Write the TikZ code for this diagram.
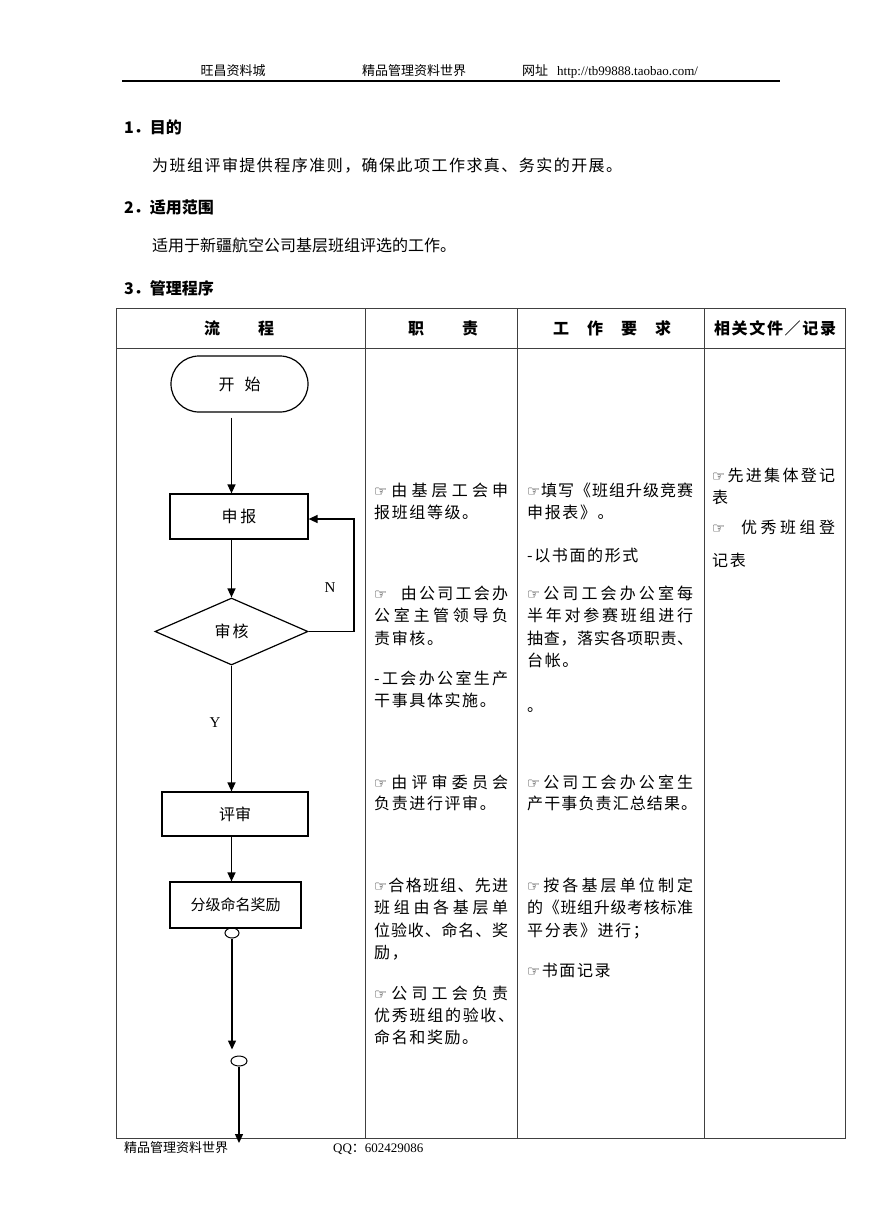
\documentclass[tikz,border=0pt]{standalone}
\usepackage{fontspec}
\setmainfont{Liberation Serif}
\newfontfamily\cjk{Noto Sans CJK SC}
\newfontfamily\sym{DejaVu Sans}
\usetikzlibrary{arrows.meta,shapes.geometric,calc}
\newcommand\sprA[1]{#1\sprB}
\newcommand\sprB[1]{\ifx#1\relax\else\sprsep#1\expandafter\sprB\fi}
\newcommand\jl[2]{\hbox to #1{\let\sprsep\hfil\sprA#2\relax}}
\newcommand\nl[1]{\hbox{\let\sprsep\ikern\sprA#1\relax}}
\def\ikern{\kern1.6pt}
\def\gp{\kern9pt}
\newcommand\hand{{\sym\fontsize{14.5}{14}\selectfont ☞}}
\tikzset{
  txt/.style={font=\cjk\fontsize{16}{19}\selectfont, inner sep=0pt, anchor=west, text height=13.4pt, text depth=1.3pt},
  small/.style={font=\cjk\fontsize{13}{15}\selectfont, inner sep=0pt, text height=11pt, text depth=1.1pt},
  latin/.style={font=\fontsize{13}{15}\selectfont, inner sep=0pt, text height=11pt, text depth=1.1pt},
  head/.style={font=\cjk\bfseries\fontsize{16}{19}\selectfont, inner sep=0pt, text height=13.4pt, text depth=1.3pt},
  flowbox/.style={draw, line width=1.2pt, font=\cjk\fontsize{16}{19}\selectfont, inner sep=0pt},
  arr/.style={-{Triangle[length=9pt,width=8pt]}, line width=1.4pt},
  tbl/.style={draw=black!75, line width=0.9pt},
  lbl/.style={font=\fontsize{15}{17}\selectfont, inner sep=0pt}
}
\begin{document}
\begin{tikzpicture}[x=1pt,y=-1pt]
\path[fill=white] (0,0) rectangle (868,1228);
\useasboundingbox (0,0) rectangle (868,1228);
% page header
\node[small] (h1) at (233,71) {旺昌资料城};
\node[small] (h2) at (414,71) {精品管理资料世界};
\node[small, anchor=west] (h3) at (522,71) {网址};
\node[latin, anchor=west] (h4) at (557,71) {http://tb99888.taobao.com/};
\draw[line width=1.3pt] (122,81) -- (780,81);
% sections
\node[head, anchor=west] (s1) at (124,127) {1．目的};
\node[txt] (p1) at (152,165) {\jl{470pt}{为班组评审提供程序准则，确保此项工作求真、务实的开展。}};
\node[head, anchor=west] (s2) at (124,207) {2．适用范围};
\node[txt] (p2) at (152,245) {适用于新疆航空公司基层班组评选的工作。};
\node[head, anchor=west] (s3) at (124,288) {3．管理程序};
% table
\draw[tbl] (116,308) rectangle (845,1138);
\draw[tbl] (116,348) -- (845,348);
\draw[tbl] (365,308) -- (365,1138);
\draw[tbl] (517,308) -- (517,1138);
\draw[tbl] (704,308) -- (704,1138);
\node[head] (t1) at (239,328) {\jl{70pt}{流程}};
\node[head] (t2) at (443,328) {\jl{70pt}{职责}};
\node[head] (t3) at (612,328) {\jl{118pt}{工作要求}};
\node[head] (t4) at (775,328) {\jl{122pt}{相关文件／记录}};
% flow chart
\node[flowbox, minimum width=137pt, minimum height=56pt, rounded corners=28pt] (start) at (239.5,384) {开\hspace{10pt}始};
\node[flowbox, minimum width=138pt, minimum height=45pt] (rep) at (239,516.5) {申\kern3pt 报};
\node[diamond, draw, line width=1.2pt, minimum width=153pt, minimum height=67pt, inner sep=0pt, font=\cjk\fontsize{16}{19}\selectfont] (chk) at (231.5,631.5) {审\kern2pt 核};
\node[flowbox, minimum width=146pt, minimum height=44pt] (rev) at (235,814) {评审};
\node[flowbox, minimum width=131pt, minimum height=46pt, font=\cjk\fontsize{15}{18}\selectfont] (awd) at (235.5,905) {分级命名奖励};
\node[ellipse, draw, line width=1pt, minimum width=14pt, minimum height=10pt, inner sep=0pt] (c1) at (232,933) {};
\node[ellipse, draw, line width=1pt, minimum width=16pt, minimum height=10pt, inner sep=0pt] (c2) at (239,1061) {};
\coordinate (nloop) at (354,519);
\coordinate (endp) at (239,1143);
\draw[arr] ($(start.south -| chk.north)+(0,5)$) -- (rep.north -| chk.north);
\draw[arr] (rep.south -| chk.north) -- (chk.north);
\draw[arr] (chk.east) -| (nloop) -- (nloop -| rep.east);
\draw[arr] (chk.south) -- (rev.north -| chk.south);
\draw[arr] (rev.south -| chk.south) -- (awd.north -| chk.south);
\draw[arr] (c1.south) -- ($(c2.north -| c1.south)+(0,-6)$);
\draw[arr] (c2.south) -- (endp);
\node[lbl] (nlab) at (330,588) {N};
\node[lbl] (ylab) at (215,723) {Y};
% column 2
\node[txt] (a1) at (374,490) {\jl{134pt}{\hand 由基层工会申}};
\node[txt] (a2) at (374,512) {\nl{报班组等级。}};
\node[txt] (a3) at (374,593) {\jl{134pt}{\hand\gp 由公司工会办}};
\node[txt] (a4) at (374,615) {\jl{134pt}{公室主管领导负}};
\node[txt] (a5) at (374,638) {\nl{责审核。}};
\node[txt] (a6) at (374,678) {\jl{134pt}{-工会办公室生产}};
\node[txt] (a7) at (374,700) {\nl{干事具体实施。}};
\node[txt] (a8) at (374,782) {\jl{134pt}{\hand 由评审委员会}};
\node[txt] (a9) at (374,803) {\nl{负责进行评审。}};
\node[txt] (a10) at (374,885) {\jl{134pt}{\hand 合格班组、先进}};
\node[txt] (a11) at (374,907) {\jl{134pt}{班组由各基层单}};
\node[txt] (a12) at (374,930) {\jl{134pt}{位验收、命名、奖}};
\node[txt] (a13) at (374,952) {\nl{励，}};
\node[txt] (a14) at (374,993) {\jl{134pt}{\hand 公司工会负责}};
\node[txt] (a15) at (374,1015) {\jl{140pt}{优秀班组的验收、}};
\node[txt] (a16) at (374,1037) {\nl{命名和奖励。}};
% column 3
\node[txt] (b1) at (527,490) {\jl{166pt}{\hand 填写《班组升级竞赛}};
\node[txt] (b2) at (527,512) {\nl{申报表》。}};
\node[txt] (b3) at (527,555) {\nl{-以书面的形式}};
\node[txt] (b4) at (527,593) {\jl{166pt}{\hand 公司工会办公室每}};
\node[txt] (b5) at (527,615) {\jl{166pt}{半年对参赛班组进行}};
\node[txt] (b6) at (527,638) {\jl{166pt}{抽查，落实各项职责、}};
\node[txt] (b7) at (527,660) {\nl{台帐。}};
\node[txt] (b8) at (527,705) {\nl{。}};
\node[txt] (b9) at (527,782) {\jl{166pt}{\hand 公司工会办公室生}};
\node[txt] (b10) at (527,803) {\jl{170pt}{产干事负责汇总结果。}};
\node[txt] (b11) at (527,885) {\jl{166pt}{\hand 按各基层单位制定}};
\node[txt] (b12) at (527,907) {\jl{166pt}{的《班组升级考核标准}};
\node[txt] (b13) at (527,930) {\nl{平分表》进行；}};
\node[txt] (b14) at (527,970) {\nl{\hand 书面记录}};
% column 4
\node[txt] (d1) at (712,475) {\jl{123pt}{\hand 先进集体登记}};
\node[txt] (d2) at (712,497) {\nl{表}};
\node[txt] (d3) at (712,527) {\jl{123pt}{\hand\gp 优秀班组登}};
\node[txt] (d4) at (712,560) {\nl{记表}};
% footer
\node[small, anchor=west] (f1) at (124,1148) {精品管理资料世界};
\node[latin, anchor=west] (f2) at (333,1148) {QQ{\cjk ：}602429086};
\end{tikzpicture}
\end{document}
